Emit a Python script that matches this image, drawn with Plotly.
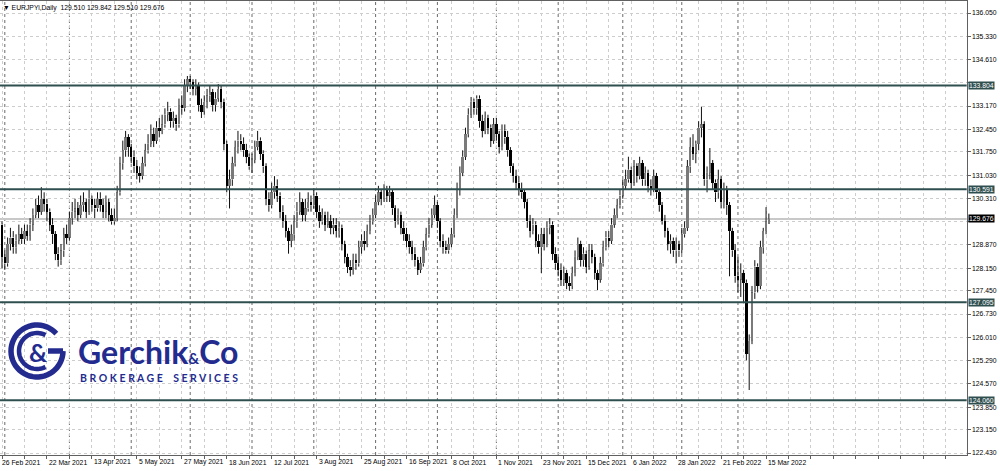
import math
import pandas as pd
import plotly.graph_objects as go

# ---------------- data ----------------
symbol_title = "EURJPYi,Daily"
header_ohlc = ["129.510", "129.842", "129.510", "129.676"]

dates = pd.bdate_range("2021-02-26", periods=274)

close = [
    128.50, 128.30, 128.90, 129.10, 128.80, 129.00, 129.20, 129.05, 129.30, 129.15,
    129.50, 129.80, 130.10, 129.90, 130.30, 130.15, 129.90, 129.50, 129.20, 128.60,
    128.40, 128.70, 129.20, 129.10, 129.70, 129.90, 130.00, 129.80, 130.10, 130.20,
    129.90, 130.30, 130.10, 130.00, 130.30, 130.10, 129.90, 130.20, 129.80, 129.60,
    129.70, 130.50, 131.40, 131.80, 132.20, 131.90, 131.60, 131.30, 131.10, 131.00,
    131.40, 131.80, 132.00, 132.30, 132.10, 132.50, 132.40, 132.60, 132.90, 133.00,
    132.70, 132.80, 132.60, 133.20, 133.10, 133.80, 134.00, 133.90, 133.70, 133.80,
    133.20, 133.00, 133.30, 133.50, 133.60, 133.20, 133.40, 133.70, 133.30, 132.00,
    130.70, 130.90, 131.40, 131.90, 132.10, 132.00, 131.80, 131.60, 131.30, 131.50,
    131.90, 132.10, 131.70, 131.30, 130.30, 130.10, 130.50, 130.70, 130.40, 129.90,
    129.60, 129.30, 129.00, 129.20, 129.60, 129.90, 130.20, 129.80, 130.00, 130.20,
    130.10, 130.40, 129.90, 129.60, 129.80, 129.50, 129.60, 129.40, 129.50, 129.30,
    129.40, 128.90, 128.50, 128.20, 128.10, 128.40, 128.30, 128.80, 129.00, 128.90,
    129.30, 129.60, 129.80, 130.20, 130.50, 130.30, 130.60, 130.40, 130.50, 130.00,
    129.60, 129.80, 129.40, 129.20, 129.00, 128.80, 128.60, 128.40, 128.10, 128.30,
    128.80, 129.20, 129.50, 129.80, 130.10, 129.60, 129.00, 128.80, 128.70, 128.90,
    129.20, 129.80, 130.60, 131.10, 131.60, 132.30, 132.90, 133.30, 133.10, 133.40,
    132.70, 132.40, 132.80, 132.50, 132.10, 132.60, 132.30, 131.90, 132.40, 132.20,
    131.80, 131.30, 131.00, 130.80, 130.60, 130.50, 130.20, 129.60, 129.30, 129.50,
    129.00, 128.80, 129.20, 128.90, 129.40, 129.50, 128.60, 128.30, 128.10, 127.80,
    128.00, 127.70, 127.60, 128.00, 128.50, 128.90, 128.40, 128.60, 128.20, 128.70,
    128.50, 128.00, 127.80, 128.30, 128.80, 129.10, 129.00, 129.50, 129.80, 130.10,
    130.40, 130.70, 130.90, 131.20, 130.80, 131.30, 131.00, 131.40, 130.90, 131.10,
    130.70, 130.60, 131.00, 130.50, 130.10, 129.60, 129.30, 128.90, 129.00, 128.70,
    128.90, 128.70, 129.20, 129.40, 131.30, 131.90, 131.70, 132.00, 132.50, 132.60,
    130.90, 131.10, 131.40, 130.80, 130.50, 130.90, 130.20, 130.60, 130.10, 129.30,
    128.70, 127.90, 127.80, 128.00, 127.70, 125.50, 125.90, 127.40, 128.20, 127.60,
    128.80, 129.30, 129.60, 129.676,
]

high = [
    129.60, 128.70, 129.10, 129.40, 129.30, 129.20, 129.50, 129.40, 129.50, 129.50,
    129.70, 130.00, 130.30, 130.40, 130.66, 130.50, 130.30, 130.00, 129.70, 129.30,
    128.80, 128.90, 129.40, 129.50, 129.90, 130.20, 130.30, 130.20, 130.40, 130.50,
    130.30, 130.60, 130.40, 130.30, 130.50, 130.50, 130.30, 130.40, 130.30, 130.00,
    130.00, 130.70, 131.60, 132.10, 132.40, 132.30, 132.00, 131.80, 131.50, 131.30,
    131.60, 132.00, 132.30, 132.60, 132.50, 132.70, 132.80, 132.90, 133.10, 133.30,
    133.10, 133.00, 132.90, 133.40, 133.50, 134.00, 134.10, 134.10, 134.00, 134.00,
    133.90, 133.40, 133.50, 133.70, 133.80, 133.70, 133.60, 133.85, 133.80, 133.40,
    132.10, 131.20, 131.60, 132.10, 132.40, 132.30, 132.20, 132.00, 131.70, 131.70,
    132.10, 132.40, 132.20, 131.80, 131.40, 130.50, 130.80, 131.00, 130.90, 130.50,
    130.10, 129.80, 129.40, 129.50, 129.80, 130.20, 130.50, 130.30, 130.30, 130.50,
    130.40, 130.60, 130.50, 130.10, 130.00, 129.90, 129.90, 129.80, 129.70, 129.70,
    129.60, 129.50, 129.00, 128.60, 128.40, 128.60, 128.60, 129.00, 129.20, 129.30,
    129.50, 129.80, 130.00, 130.40, 130.70, 130.60, 130.75, 130.70, 130.70, 130.60,
    130.10, 130.00, 129.90, 129.60, 129.40, 129.20, 129.00, 128.80, 128.50, 128.50,
    129.00, 129.40, 129.70, 130.00, 130.40, 130.20, 129.70, 129.20, 129.00, 129.10,
    129.40, 130.00, 130.80, 131.30, 131.80, 132.50, 133.10, 133.45, 133.40, 133.50,
    133.50, 132.90, 133.00, 132.90, 132.60, 132.80, 132.80, 132.40, 132.60, 132.60,
    132.40, 131.90, 131.40, 131.20, 131.00, 130.80, 130.60, 130.30, 129.80, 129.70,
    129.60, 129.20, 129.40, 129.40, 129.60, 129.70, 129.60, 128.80, 128.50, 128.30,
    128.20, 128.10, 127.90, 128.20, 128.70, 129.10, 129.00, 128.80, 128.70, 128.90,
    128.90, 128.60, 128.10, 128.50, 129.00, 129.30, 129.30, 129.70, 130.00, 130.30,
    130.60, 130.90, 131.20, 131.60, 131.30, 131.50, 131.40, 131.60, 131.50, 131.30,
    131.20, 130.90, 131.20, 131.10, 130.60, 130.20, 129.80, 129.40, 129.20, 129.10,
    129.10, 129.00, 129.40, 129.60, 131.50, 132.20, 132.30, 132.10, 132.70, 133.15,
    132.70, 131.30, 131.87, 131.50, 130.90, 131.20, 131.00, 130.80, 130.70, 130.20,
    129.40, 128.90, 128.50, 128.30, 128.10, 127.80, 126.10, 127.60, 128.40, 128.30,
    129.00, 129.40, 130.04, 129.842,
]

low = [
    128.15, 128.10, 128.20, 128.70, 128.60, 128.60, 128.90, 128.90, 128.90, 129.00,
    129.00, 129.30, 129.70, 129.70, 129.80, 129.90, 129.60, 129.30, 128.90, 128.40,
    128.20, 128.25, 128.50, 128.90, 129.00, 129.50, 129.70, 129.60, 129.70, 129.90,
    129.70, 129.80, 129.90, 129.70, 129.90, 129.90, 129.70, 129.70, 129.60, 129.50,
    129.50, 129.60, 130.40, 131.20, 131.60, 131.60, 131.40, 131.10, 130.90, 130.80,
    130.90, 131.30, 131.70, 131.90, 131.90, 132.00, 132.20, 132.30, 132.50, 132.70,
    132.50, 132.50, 132.40, 132.50, 132.90, 133.00, 133.60, 133.70, 133.50, 133.50,
    133.00, 132.80, 132.90, 133.10, 133.30, 133.00, 133.00, 133.30, 133.10, 131.80,
    130.50, 130.00, 130.70, 131.30, 131.70, 131.80, 131.60, 131.40, 131.20, 131.10,
    131.40, 131.80, 131.50, 131.10, 130.10, 129.90, 130.00, 130.30, 130.20, 129.70,
    129.40, 129.10, 128.60, 128.80, 129.00, 129.40, 129.80, 129.60, 129.60, 129.90,
    129.90, 130.00, 129.70, 129.40, 129.50, 129.30, 129.40, 129.20, 129.20, 129.10,
    129.10, 128.70, 128.30, 128.00, 127.90, 127.95, 128.10, 128.20, 128.60, 128.70,
    128.80, 129.20, 129.50, 129.70, 130.10, 130.10, 130.20, 130.20, 130.20, 129.80,
    129.40, 129.50, 129.20, 129.00, 128.80, 128.60, 128.40, 128.20, 127.94, 128.00,
    128.20, 128.70, 129.10, 129.40, 129.70, 129.40, 128.80, 128.60, 128.60, 128.60,
    128.80, 129.10, 129.70, 130.40, 131.00, 131.50, 132.20, 132.80, 132.90, 132.90,
    132.50, 132.20, 132.30, 132.30, 131.90, 132.00, 132.10, 131.70, 131.80, 132.00,
    131.60, 131.10, 130.80, 130.60, 130.40, 130.30, 130.00, 129.40, 129.10, 129.20,
    128.80, 128.60, 128.00, 128.70, 128.80, 129.20, 128.40, 128.10, 127.90, 127.60,
    127.60, 127.50, 127.45, 127.50, 127.90, 128.40, 128.20, 128.20, 128.00, 128.10,
    128.30, 127.80, 127.47, 127.70, 128.20, 128.70, 128.80, 128.90, 129.40, 129.70,
    130.00, 130.30, 130.60, 130.80, 130.60, 130.70, 130.80, 130.90, 130.70, 130.70,
    130.50, 130.40, 130.50, 130.30, 129.90, 129.50, 129.10, 128.70, 128.60, 128.50,
    128.30, 128.50, 128.60, 129.10, 129.30, 131.10, 131.50, 131.40, 131.80, 132.20,
    130.70, 130.50, 130.90, 130.60, 130.20, 130.30, 130.00, 130.00, 129.80, 127.90,
    128.50, 127.70, 127.40, 127.26, 127.10, 125.30, 124.38, 125.80, 127.20, 127.40,
    127.50, 128.60, 129.20, 129.510,
]

first_open = 129.50
last_open = 129.510

level_prices = [133.804, 130.591, 127.095, 124.060]
current_price = 129.676

ytick_vals = [136.050, 135.330, 134.610, 133.890, 133.170, 132.450, 131.750, 131.030,
              130.310, 129.590, 128.870, 128.150, 127.450, 126.730, 126.010, 125.290,
              124.570, 123.850, 123.150, 122.430]
ytick_text = ["136.050", "135.330", "134.610", "", "133.170", "132.450", "131.750", "131.030",
              "130.310", "", "128.870", "128.150", "127.450", "126.730", "126.010", "125.290",
              "124.570", "123.850", "123.150", "122.430"]

xlabel_idx = list(range(0, 273, 16))
xlabel_text = ["26 Feb 2021", "22 Mar 2021", "13 Apr 2021", "5 May 2021", "27 May 2021",
               "18 Jun 2021", "12 Jul 2021", "3 Aug 2021", "25 Aug 2021", "16 Sep 2021",
               "8 Oct 2021", "1 Nov 2021", "23 Nov 2021", "15 Dec 2021", "6 Jan 2022",
               "28 Jan 2022", "21 Feb 2022", "15 Mar 2022"]

# ---------------- derived geometry ----------------
n = len(close)
idx = list(range(n))
opens = [first_open] + close[:-1]
opens[-1] = last_open
body_top = [max(o, c) for o, c in zip(opens, close)]
body_bot = [min(o, c) for o, c in zip(opens, close)]
hi = [max(h, t) for h, t in zip(high, body_top)]
lo = [min(l, b) for l, b in zip(low, body_bot)]

W, H = 1000, 471
PLOT_R = 966.7
X0 = -2 / 2.809
X1 = X0 + PLOT_R / 2.809
Y_TOP_PX, Y_BOT_PX = 1, 455
scale = (136.050 - 122.430) / (453 - 13)
Y1 = 136.050 + (13 - Y_TOP_PX) * scale
Y0 = 122.430 - (Y_BOT_PX - 453) * scale

FONT = "Liberation Sans, Arial, sans-serif"
FS = 6.8
LEVEL_COL = "#2f4f4f"
NAVY = "#232b8f"
LOGO_FONT = "Lato, sans-serif"

fig = go.Figure()

# wicks (outside bodies)
wx, wy = [], []
for i in idx:
    if hi[i] > body_top[i]:
        wx += [i, i, None]
        wy += [body_top[i], hi[i], None]
    if lo[i] < body_bot[i]:
        wx += [i, i, None]
        wy += [lo[i], body_bot[i], None]
fig.add_trace(go.Scatter(x=wx, y=wy, mode="lines", line=dict(color="#111111", width=1),
                         hoverinfo="skip"))

# bodies
colors = ["#7a7a7a" if c >= o else "black" for o, c in zip(opens, close)]
heights = [max(t - b, 0.03) for t, b in zip(body_top, body_bot)]
fig.add_trace(go.Bar(x=idx, y=heights, base=body_bot, width=0.85,
                     marker=dict(color=colors, line=dict(width=0)), hoverinfo="skip"))

shapes = []
# month separators
prev_m = dates[0].month
for i, d in enumerate(dates):
    if d.month != prev_m:
        shapes.append(dict(type="line", xref="x", yref="paper", x0=i, x1=i,
                           y0=(H - Y_BOT_PX) / H, y1=(H - Y_TOP_PX) / H,
                           line=dict(color="#6a6a6a", width=1, dash="dot"), layer="below"))
    prev_m = d.month

# current price line
shapes.append(dict(type="line", xref="paper", yref="y", x0=0, x1=PLOT_R / W,
                   y0=current_price, y1=current_price,
                   line=dict(color="#c8c8c8", width=2), layer="below"))
# level lines
for p in level_prices:
    shapes.append(dict(type="line", xref="paper", yref="y", x0=0, x1=PLOT_R / W,
                       y0=p, y1=p, line=dict(color=LEVEL_COL, width=2)))


# logo emblem
def P(x, y):
    return f"{x / W:.5f},{1 - y / H:.5f}"


def arc(cx, cy, r, a0, a1, steps=48):
    pts = []
    for k in range(steps + 1):
        a = math.radians(a0 + (a1 - a0) * k / steps)
        pts.append(P(cx + r * math.cos(a), cy - r * math.sin(a)))
    return "M " + " L ".join(pts)


cx, cy = 37, 351
shapes.append(dict(type="path", xref="paper", yref="paper", path=arc(cx, cy, 26, 42, 360),
                   line=dict(color=NAVY, width=5.5)))
shapes.append(dict(type="path", xref="paper", yref="paper",
                   path="M " + P(cx + 11, cy) + " L " + P(cx + 26, cy),
                   line=dict(color=NAVY, width=5.5)))
shapes.append(dict(type="path", xref="paper", yref="paper", path=arc(cx, cy, 18, 62, 298),
                   line=dict(color=NAVY, width=4.5)))

annotations = []
annotations.append(dict(text="&", x=(cx + 1) / W, y=1 - (cy + 1) / H, xref="paper", yref="paper",
                        showarrow=False, xanchor="center", yanchor="middle", borderpad=0,
                        font=dict(family=LOGO_FONT, size=25, color=NAVY, weight="bold")))
annotations.append(dict(text="Gerchik<span style='font-size:15px'>&amp;</span>Co",
                        x=77 / W, y=1 - 351 / H, xref="paper", yref="paper",
                        showarrow=False, xanchor="left", yanchor="middle", borderpad=0,
                        font=dict(family=LOGO_FONT, size=32, color=NAVY, weight="bold")))
annotations.append(dict(text="B R O K E R A G E \u2002 S E R V I C E S", x=79 / W, y=1 - 378 / H,
                        xref="paper", yref="paper", showarrow=False, xanchor="left",
                        yanchor="middle", borderpad=0,
                        font=dict(family=LOGO_FONT, size=10.5, color=NAVY, weight="bold")))

# header text
annotations.append(dict(text="\u25bc " + symbol_title + "\u00a0\u00a0" + " ".join(header_ohlc),
                        x=1 / W, y=1 - 8 / H, xref="paper", yref="paper", showarrow=False,
                        xanchor="left", yanchor="middle",
                        font=dict(family=FONT, size=FS, color="black")))

# date labels
for i, t in zip(xlabel_idx, xlabel_text):
    annotations.append(dict(text=t, x=i, y=1 - 462 / H, xref="x", yref="paper",
                            showarrow=False, xanchor="left", yanchor="middle",
                            xshift=-2 if i == 0 else 0,
                            font=dict(family=FONT, size=FS, color="black")))

# level labels
for p in level_prices:
    annotations.append(dict(text=f"{p:.3f}", x=PLOT_R / W, y=p, xref="paper", yref="y",
                            showarrow=False, xanchor="left", yanchor="middle", xshift=1,
                            bgcolor=LEVEL_COL, borderpad=0,
                            font=dict(family=FONT, size=FS, color="white")))
annotations.append(dict(text=f"{current_price:.3f}", x=PLOT_R / W, y=current_price, xref="paper",
                        yref="y", showarrow=False, xanchor="left", yanchor="middle", xshift=1,
                        bgcolor="black", borderpad=0,
                        font=dict(family=FONT, size=FS, color="white")))

fig.update_layout(
    width=W, height=H, margin=dict(l=0, r=0, t=0, b=0),
    paper_bgcolor="white", plot_bgcolor="white", showlegend=False, bargap=0,
    shapes=shapes, annotations=annotations,
    xaxis=dict(domain=[0, PLOT_R / W], range=[X0, X1], tickvals=list(range(0, 344, 8)),
               showticklabels=False, ticks="outside", ticklen=3, tickcolor="#606060",
               showgrid=True, gridcolor="#cdcdcd", griddash="dot", gridwidth=1,
               showline=True, linecolor="#606060", linewidth=1, mirror=True, zeroline=False),
    yaxis=dict(domain=[(H - Y_BOT_PX) / H, (H - Y_TOP_PX) / H], range=[Y0, Y1], side="right",
               tickvals=ytick_vals, ticktext=ytick_text, ticks="outside", ticklen=3,
               tickcolor="#606060", tickfont=dict(family=FONT, size=FS, color="black"),
               showgrid=True, gridcolor="#cdcdcd", griddash="dot", gridwidth=1,
               showline=True, linecolor="#606060", linewidth=1, mirror=True, zeroline=False),
)

fig.write_html("out.html", config={"displayModeBar": False},
               post_script="document.body.style.margin='0';document.body.style.overflow='hidden';")
